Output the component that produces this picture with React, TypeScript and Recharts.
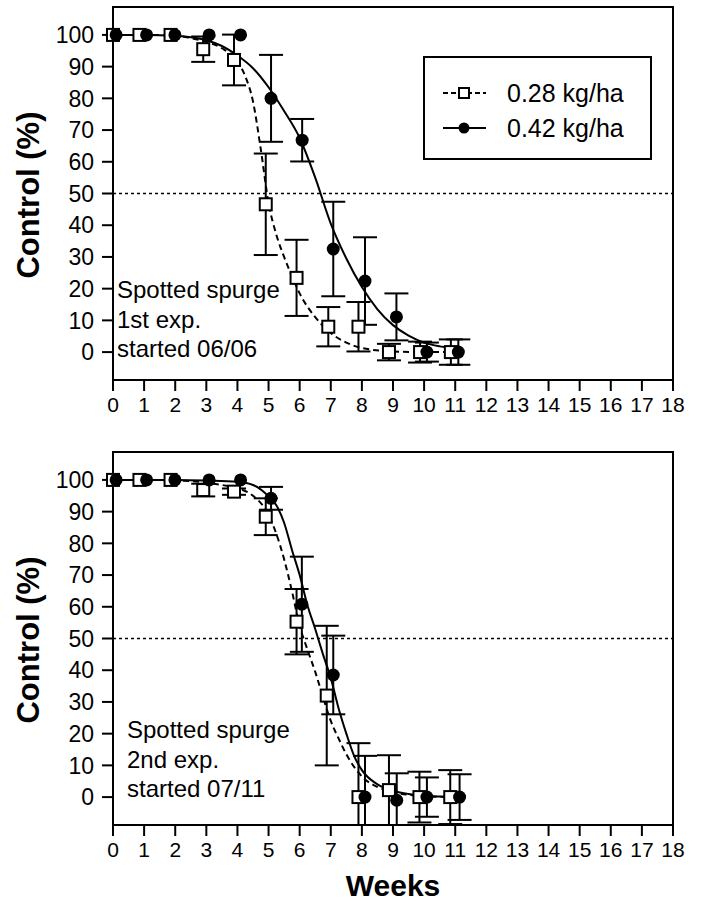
import React from "react";
import {
  ComposedChart,
  Line,
  Scatter,
  XAxis,
  YAxis,
  ErrorBar,
  ReferenceLine,
  ReferenceArea,
} from "recharts";

const FONT = "'Liberation Sans', Arial, Helvetica, sans-serif";

const weekTicks = [0, 1, 2, 3, 4, 5, 6, 7, 8, 9, 10, 11, 12, 13, 14, 15, 16, 17, 18];
const controlTicks = [0, 10, 20, 30, 40, 50, 60, 70, 80, 90, 100];
const rateLabels = ["0.28 kg/ha", "0.42 kg/ha"];
const panelNotes = [
  ["Spotted spurge", "1st exp.", "started 06/06"],
  ["Spotted spurge", "2nd exp.", "started 07/11"],
];

// 1st experiment, observed means and error
const weeksLow1 = [0, 0.85, 1.85, 2.9, 3.89, 4.91, 5.9, 6.92, 7.89, 8.87, 9.87, 10.86];
const low1 = [100, 100, 100, 95.5, 92.1, 46.6, 23.4, 8, 8, 0, 0, 0];
const low1Err = [0, 0, 0, 4, 8, 16, 12, 6.2, 7.8, 2.6, 3.3, 4];
const weeksHigh1 = [0.1, 1.08, 1.99, 3.09, 4.1, 5.08, 6.08, 7.08, 8.1, 9.11, 10.09, 11.1];
const high1 = [100, 100, 100, 100, 100, 80, 66.8, 32.5, 22.4, 11.1, 0, 0];
const high1Err = [0, 0, 0, 0, 0, 13.7, 6.7, 14.9, 13.8, 7.4, 3, 4];

const fitWeeksLow1 = [0, 1, 2, 2.5, 3, 3.5, 4, 4.25, 4.5, 4.75, 5, 5.25, 5.5, 5.75, 6, 6.5, 7, 7.5, 8, 9, 10, 10.9];
const fitLow1 = [100, 100, 99.8, 99, 97.8, 95.8, 91.5, 87, 79, 64, 47, 37, 30, 24, 18.5, 11, 6, 3, 1.3, 0.2, 0, 0];
const fitWeeksHigh1 = [0, 1, 2, 3, 3.5, 4, 4.5, 5, 5.5, 6, 6.5, 7, 7.5, 8, 8.5, 9, 9.5, 10, 10.5, 11.1];
const fitHigh1 = [100, 100, 99.7, 98.3, 96.5, 93.5, 89.5, 83.5, 76, 67.5, 55, 40.5, 29.5, 20.5, 13.5, 8.5, 5.2, 3, 1.8, 1];

// 2nd experiment
const weeksLow2 = [0, 0.85, 1.85, 2.9, 3.89, 4.91, 5.9, 6.87, 7.89, 8.87, 9.85, 10.84];
const low2 = [100, 100, 100, 96.8, 96.3, 88.4, 55.3, 32, 0, 2.2, 0, 0];
const low2Err = [0, 0, 0, 2, 1, 5.8, 10.3, 22, 17, 11, 8, 8.5];
const weeksHigh2 = [0.1, 1.08, 1.99, 3.09, 4.1, 5.08, 6.07, 7.08, 8.1, 9.12, 10.09, 11.14];
const high2 = [100, 100, 100, 100, 100, 94.2, 60.8, 38.5, 0, -1, 0, 0];
const high2Err = [0, 0, 0, 0, 0, 3.6, 15, 12.4, 13, 8.5, 6.2, 7.2];

const fitWeeksLow2 = [0, 1, 2, 3, 3.5, 4, 4.5, 5, 5.25, 5.5, 5.75, 6, 6.25, 6.5, 6.75, 7, 7.25, 7.5, 8, 8.5, 9, 9.5, 10, 10.85];
const fitLow2 = [100, 100, 99.8, 99.2, 98.4, 97.4, 95, 89, 83, 75, 65, 54, 46.5, 39.5, 31.5, 24, 18.5, 13.5, 6.5, 3.2, 1.6, 0.7, 0.3, 0];
const fitWeeksHigh2 = [0, 1, 2, 3, 4, 4.5, 5, 5.25, 5.5, 5.75, 6, 6.25, 6.5, 6.75, 7, 7.25, 7.5, 7.75, 8, 8.5, 9, 9.5, 10, 11.1];
const fitHigh2 = [100, 100, 100, 99.8, 99.4, 98.4, 94.8, 92, 86.5, 78, 70, 60.5, 53, 45, 37.5, 28, 20, 13, 8.5, 4, 2, 1, 0.4, 0];

const Y_MIN = -8.8;
const Y_MAX = 108.8;

type Pt = { x: number; y: number; err?: number };

function toPoints(xs: number[], ys: number[], errs?: number[]): Pt[] {
  return xs.map((x, i) => ({ x, y: ys[i], err: errs ? errs[i] : undefined }));
}

const SquareDot = (props: any) => {
  const { cx, cy } = props;
  if (cx == null || cy == null) return null;
  return <rect x={cx - 6} y={cy - 6} width={12} height={12} fill="#fff" stroke="#000" strokeWidth={2} />;
};

const CircleDot = (props: any) => {
  const { cx, cy } = props;
  if (cx == null || cy == null) return null;
  return <circle cx={cx} cy={cy} r={6.5} fill="#000" />;
};

type PanelProps = {
  low: Pt[];
  high: Pt[];
  fitLow: Pt[];
  fitHigh: Pt[];
};

const Panel = ({ low, high, fitLow, fitHigh }: PanelProps) => (
  <ComposedChart width={701} height={440} margin={{ top: 7, right: 28, left: 53, bottom: 20 }}>
    <XAxis
      dataKey="x"
      type="number"
      domain={[0, 18]}
      ticks={weekTicks}
      interval={0}
      height={40}
      tickSize={11}
      tickMargin={6}
      axisLine={{ stroke: "#000", strokeWidth: 2 }}
      tickLine={{ stroke: "#000", strokeWidth: 2 }}
      tick={{ fill: "#000", fontSize: 21, fontFamily: FONT }}
    />
    <YAxis
      dataKey="y"
      type="number"
      domain={[Y_MIN, Y_MAX]}
      ticks={controlTicks}
      interval={0}
      allowDataOverflow
      width={60}
      tickSize={11}
      tickMargin={8}
      axisLine={{ stroke: "#000", strokeWidth: 2 }}
      tickLine={{ stroke: "#000", strokeWidth: 2 }}
      tick={{ fill: "#000", fontSize: 23, fontFamily: FONT }}
    />
    <ReferenceArea x1={0} x2={18} y1={Y_MIN} y2={Y_MAX} fill="none" stroke="#000" strokeWidth={2} />
    <ReferenceLine y={50} stroke="#000" strokeWidth={1.5} strokeDasharray="3 3" />
    <Line
      data={fitLow}
      dataKey="y"
      type="monotone"
      dot={false}
      stroke="#000"
      strokeWidth={2}
      strokeDasharray="6 4"
      isAnimationActive={false}
    />
    <Line
      data={fitHigh}
      dataKey="y"
      type="monotone"
      dot={false}
      stroke="#000"
      strokeWidth={2}
      isAnimationActive={false}
    />
    <Scatter data={low} dataKey="y" shape={SquareDot} isAnimationActive={false}>
      <ErrorBar dataKey="err" direction="y" width={12} stroke="#000" strokeWidth={2} />
    </Scatter>
    <Scatter data={high} dataKey="y" shape={CircleDot} isAnimationActive={false}>
      <ErrorBar dataKey="err" direction="y" width={12} stroke="#000" strokeWidth={2} />
    </Scatter>
  </ComposedChart>
);

export default function App() {
  const notes = (lines: string[], x: number, y0: number) =>
    lines.map((t, i) => (
      <text key={t} x={x} y={y0 + i * 29.5} fontSize={24} fontFamily={FONT} fill="#000">
        {t}
      </text>
    ));

  return (
    <div style={{ position: "absolute", left: 0, top: 0, width: 701, height: 905, background: "#fff" }}>
      {/* error bars that run past the frame are cut at the plot area, as in the original */}
      <style>{`.recharts-errorBars, .recharts-errorBar { clip-path: url(#plotClip); }`}</style>
      <div style={{ position: "absolute", left: 0, top: 0 }}>
        <Panel
          low={toPoints(weeksLow1, low1, low1Err)}
          high={toPoints(weeksHigh1, high1, high1Err)}
          fitLow={toPoints(fitWeeksLow1, fitLow1)}
          fitHigh={toPoints(fitWeeksHigh1, fitHigh1)}
        />
      </div>
      <div style={{ position: "absolute", left: 0, top: 445 }}>
        <Panel
          low={toPoints(weeksLow2, low2, low2Err)}
          high={toPoints(weeksHigh2, high2, high2Err)}
          fitLow={toPoints(fitWeeksLow2, fitLow2)}
          fitHigh={toPoints(fitWeeksHigh2, fitHigh2)}
        />
      </div>
      <svg
        width={701}
        height={905}
        style={{ position: "absolute", left: 0, top: 0, pointerEvents: "none" }}
      >
        <defs>
          <clipPath id="plotClip" clipPathUnits="userSpaceOnUse">
            <rect x={113} y={7} width={560} height={373} />
          </clipPath>
        </defs>

        {/* axis titles */}
        <text
          transform="translate(28,195) rotate(-90)"
          textAnchor="middle"
          dominantBaseline="central"
          fontSize={31}
          fontWeight="bold"
          fontFamily={FONT}
        >
          Control (%)
        </text>
        <text
          transform="translate(28,640) rotate(-90)"
          textAnchor="middle"
          dominantBaseline="central"
          fontSize={31}
          fontWeight="bold"
          fontFamily={FONT}
        >
          Control (%)
        </text>
        <text x={393} y={885} textAnchor="middle" dominantBaseline="central" fontSize={30} fontWeight="bold" fontFamily={FONT}>
          Weeks
        </text>

        {/* panel notes */}
        {notes(panelNotes[0], 117, 298)}
        {notes(panelNotes[1], 127, 738)}

        {/* legend */}
        <rect x={424} y={57} width={227} height={102} fill="#fff" stroke="#000" strokeWidth={2} />
        <line x1={443} y1={93} x2={486} y2={93} stroke="#000" strokeWidth={2} strokeDasharray="5 3" />
        <rect x={459} y={88} width={10} height={10} fill="#fff" stroke="#000" strokeWidth={2} />
        <line x1={443} y1={128} x2={486} y2={128} stroke="#000" strokeWidth={2} />
        <circle cx={464} cy={128} r={5.5} fill="#000" />
        <text x={507} y={93} dominantBaseline="central" fontSize={25} fontFamily={FONT}>
          {rateLabels[0]}
        </text>
        <text x={507} y={128} dominantBaseline="central" fontSize={25} fontFamily={FONT}>
          {rateLabels[1]}
        </text>
      </svg>
    </div>
  );
}
